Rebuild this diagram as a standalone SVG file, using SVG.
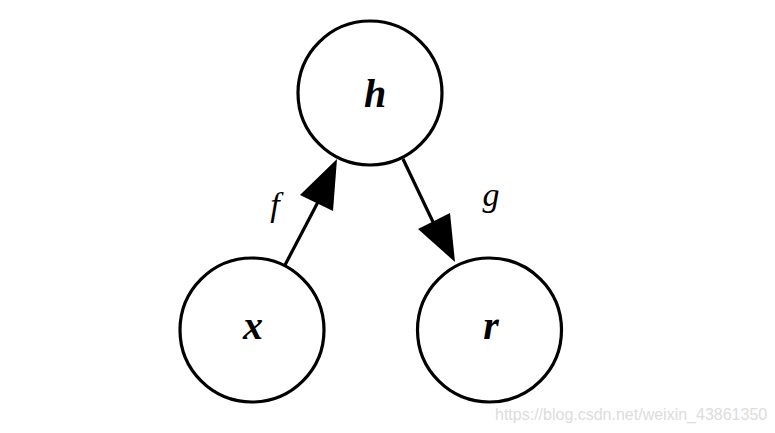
<svg xmlns="http://www.w3.org/2000/svg" width="775" height="433" viewBox="0 0 775 433">
<style>
.node{fill:#fff;stroke:#000;stroke-width:3.2}
.lbl{font-family:"Liberation Serif","DejaVu Serif",serif;font-style:italic;font-weight:bold;font-size:40px;text-anchor:middle;fill:#000}
.elbl{font-family:"Liberation Serif","DejaVu Serif",serif;font-style:italic;font-size:34px;text-anchor:middle;fill:#000}
.edge{stroke:#000;stroke-width:3.2;fill:none}
.wm{font-family:"Liberation Sans",Arial,sans-serif;font-size:16px;fill:#dcdcdc}
</style>
<rect width="775" height="433" fill="#fff"/>
<g id="connectors">
<line class="edge" x1="285" y1="265" x2="318" y2="202"/>
<polygon points="337,159 300,195 333,211" fill="#000"/>
<line class="edge" x1="403" y1="159" x2="433" y2="222"/>
<polygon points="455,262 418,229 450,213" fill="#000"/>
<text class="elbl" x="275" y="216">f</text>
<text class="elbl" x="491" y="206">g</text>
</g>
<g id="node-h">
<circle class="node" cx="370" cy="93" r="72"/>
<text class="lbl" x="375" y="107">h</text>
</g>
<g id="node-x">
<circle class="node" cx="252" cy="330" r="72"/>
<text class="lbl" x="253" y="339">x</text>
</g>
<g id="node-r">
<circle class="node" cx="489.5" cy="330" r="72"/>
<text class="lbl" x="491" y="339">r</text>
</g>
<text class="wm" x="495" y="420">https://blog.csdn.net/weixin_43861350</text>
</svg>
